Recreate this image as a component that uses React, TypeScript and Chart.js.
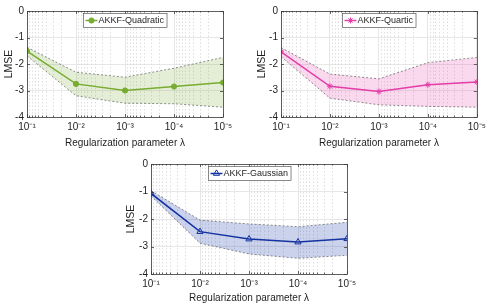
import React, { useEffect, useRef } from 'react';
import { Chart, registerables } from 'chart.js';
import { drawPoint } from 'chart.js/helpers';
Chart.register(...registerables);

// ---- data ----
const lambdas = [1e-1, 1e-2, 1e-3, 1e-4, 1e-5];
const xTickValues = [1e-1, 1e-2, 1e-3, 1e-4, 1e-5];
const xTickLabels = ['10⁻¹', '10⁻²', '10⁻³', '10⁻⁴', '10⁻⁵'];
const yTickValues = [0, -1, -2, -3, -4];

const quadMean = [-1.51, -2.75, -3.0, -2.85, -2.7];
const quadUpper = [-1.37, -2.31, -2.5, -2.16, -1.75];
const quadLower = [-1.69, -3.2, -3.48, -3.5, -3.63];

const quartMean = [-1.54, -2.84, -3.04, -2.78, -2.68];
const quartUpper = [-1.38, -2.38, -2.56, -1.95, -1.75];
const quartLower = [-1.72, -3.29, -3.54, -3.6, -3.63];

const gaussMean = [-1.07, -2.46, -2.73, -2.84, -2.72];
const gaussUpper = [-0.97, -2.04, -2.18, -2.28, -2.12];
const gaussLower = [-1.16, -2.88, -3.27, -3.43, -3.32];

const FONT = "'Liberation Sans', Arial, Helvetica, sans-serif";

const matlabPlugin = {
  id: 'matlab',
  beforeDatasetsDraw(chart: any) {
    const { ctx, chartArea: a, scales } = chart;
    const x = scales.x;
    ctx.save();
    ctx.strokeStyle = 'rgb(215,215,215)';
    ctx.lineWidth = 0.8;
    ctx.setLineDash([1.5, 2]);
    for (let e = -5; e < -1; e++) {
      for (let k = 2; k <= 9; k++) {
        const px = Math.round(x.getPixelForValue(k * Math.pow(10, e))) + 0.5;
        ctx.beginPath();
        ctx.moveTo(px, a.top);
        ctx.lineTo(px, a.bottom);
        ctx.stroke();
      }
    }
    ctx.restore();
  },
  afterDraw(chart: any, _args: any, opts: any) {
    const { ctx, chartArea: a, scales } = chart;
    const x = scales.x;
    const y = scales.y;
    ctx.save();
    ctx.strokeStyle = 'rgb(60,60,60)';
    ctx.lineWidth = 0.8;
    ctx.setLineDash([]);
    for (let e = -5; e <= -1; e++) {
      for (let k = 1; k <= 9; k++) {
        const v = k * Math.pow(10, e);
        if (v > 0.1 + 1e-12) continue;
        const len = k === 1 ? 3 : 1.5;
        const px = Math.round(x.getPixelForValue(v)) + 0.5;
        ctx.beginPath();
        ctx.moveTo(px, a.bottom);
        ctx.lineTo(px, a.bottom - len);
        ctx.moveTo(px, a.top);
        ctx.lineTo(px, a.top + len);
        ctx.stroke();
      }
    }
    for (const v of yTickValues) {
      const py = Math.round(y.getPixelForValue(v)) + 0.5;
      ctx.beginPath();
      ctx.moveTo(a.left, py);
      ctx.lineTo(a.left + 3, py);
      ctx.moveTo(a.right, py);
      ctx.lineTo(a.right - 3, py);
      ctx.stroke();
    }
    ctx.strokeRect(Math.round(a.left) + 0.5, Math.round(a.top) + 0.5, Math.round(a.right - a.left), Math.round(a.bottom - a.top));

    // legend
    ctx.font = `9px ${FONT}`;
    const tw = ctx.measureText(opts.label).width;
    const bw = 15 + tw + 3;
    const bh = 14;
    const cx = (a.left + a.right) / 2;
    const bx = Math.round(cx - bw / 2) + 0.5;
    const by = Math.round(a.top + 2) + 0.5;
    ctx.fillStyle = '#ffffff';
    ctx.fillRect(bx, by, bw, bh);
    ctx.strokeStyle = 'rgb(60,60,60)';
    ctx.lineWidth = 0.6;
    ctx.strokeRect(bx, by, bw, bh);
    const ly = by + bh / 2;
    ctx.strokeStyle = opts.color;
    ctx.lineWidth = 1.5;
    ctx.beginPath();
    ctx.moveTo(bx + 2, ly);
    ctx.lineTo(bx + 14, ly);
    ctx.stroke();
    ctx.fillStyle = opts.pointFill;
    ctx.strokeStyle = opts.color;
    ctx.lineWidth = 1;
    drawPoint(ctx, { pointStyle: opts.pointStyle, radius: opts.radius, borderWidth: 1, rotation: 0 }, bx + 8, ly);
    ctx.fillStyle = 'rgb(30,30,30)';
    ctx.textBaseline = 'middle';
    ctx.textAlign = 'left';
    ctx.fillText(opts.label, bx + 15, ly + 0.5);
    ctx.restore();
  },
};

type PanelProps = {
  left: number; top: number; width: number; height: number;
  yw: number; xh: number; padTop: number; padRight: number; yTitlePad: number;
  label: string; color: string; fill: string; pointStyle: string; pointFill: string; radius: number;
  mean: number[]; upper: number[]; lower: number[];
};

function Panel(p: PanelProps) {
  const ref = useRef<HTMLCanvasElement>(null);
  useEffect(() => {
    const toPts = (arr: number[]) => lambdas.map((l, i) => ({ x: l, y: arr[i] }));
    const bandLine = {
      borderColor: 'rgba(70,70,70,0.85)',
      borderWidth: 0.7,
      borderDash: [2, 2],
      pointRadius: 0,
      tension: 0,
    };
    const chart = new Chart(ref.current!, {
      type: 'line',
      data: {
        datasets: [
          {
            label: p.label,
            data: toPts(p.mean),
            borderColor: p.color,
            backgroundColor: p.pointFill,
            borderWidth: 1.5,
            pointStyle: p.pointStyle as any,
            pointRadius: p.radius,
            pointBorderWidth: 1,
            pointBorderColor: p.color,
            pointBackgroundColor: p.pointFill,
            fill: false,
          },
          { label: 'upper', data: toPts(p.upper), ...bandLine, fill: false },
          { label: 'lower', data: toPts(p.lower), ...bandLine, fill: '-1', backgroundColor: p.fill },
        ],
      },
      options: {
        responsive: false,
        animation: false,
        devicePixelRatio: 1,
        layout: { padding: { top: p.padTop, right: p.padRight, left: 0, bottom: 0 } },
        plugins: {
          legend: { display: false },
          tooltip: { enabled: false },
          matlab: { label: p.label, color: p.color, pointStyle: p.pointStyle, pointFill: p.pointFill, radius: p.radius },
        } as any,
        scales: {
          x: {
            type: 'logarithmic',
            reverse: true,
            min: 1e-5,
            max: 1e-1,
            afterBuildTicks: (s: any) => { s.ticks = xTickValues.map((v) => ({ value: v })); },
            afterFit: (s: any) => { s.height = p.xh; },
            ticks: {
              autoSkip: false,
              maxRotation: 0,
              padding: 4,
              color: 'rgb(30,30,30)',
              font: { family: FONT, size: 10 },
              callback: (v: any) => {
                const i = xTickValues.findIndex((t) => Math.abs(Math.log10(t) - Math.log10(v)) < 1e-6);
                return i >= 0 ? xTickLabels[i] : '';
              },
            },
            grid: { color: 'rgb(225,225,225)', lineWidth: 0.8, drawTicks: false },
            border: { display: false },
            title: {
              display: true,
              text: 'Regularization parameter λ',
              color: 'rgb(30,30,30)',
              font: { family: FONT, size: 10 },
              padding: { top: 0, bottom: 1 },
            },
          },
          y: {
            type: 'linear',
            min: -4,
            max: 0,
            afterBuildTicks: (s: any) => { s.ticks = yTickValues.map((v) => ({ value: v })); },
            afterFit: (s: any) => { s.width = p.yw; },
            ticks: {
              padding: 3,
              color: 'rgb(30,30,30)',
              font: { family: FONT, size: 10 },
              callback: (v: any) => String(v),
            },
            grid: { color: 'rgb(225,225,225)', lineWidth: 0.8, drawTicks: false },
            border: { display: false },
            title: {
              display: true,
              text: 'LMSE',
              color: 'rgb(30,30,30)',
              font: { family: FONT, size: 10.5 },
              padding: { top: p.yTitlePad, bottom: 0 },
            },
          },
        },
      },
      plugins: [matlabPlugin as any],
    });
    return () => chart.destroy();
  }, []);
  return (
    <canvas
      ref={ref}
      width={p.width}
      height={p.height}
      style={{ position: 'absolute', left: p.left, top: p.top, width: p.width, height: p.height }}
    />
  );
}

export default function App() {
  return (
    <div style={{ position: 'absolute', left: 0, top: 0, width: 490, height: 305, background: '#fff', overflow: 'hidden' }}>
      <Panel left={0} top={0} width={245} height={150} yw={27} xh={33} padTop={11} padRight={22} yTitlePad={3}
        label="AKKF-Quadratic" color="rgb(119,172,48)" fill="rgba(119,172,48,0.2)" pointStyle="circle" pointFill="rgb(119,172,48)" radius={2.6}
        mean={quadMean} upper={quadUpper} lower={quadLower} />
      <Panel left={245} top={0} width={245} height={150} yw={36} xh={33} padTop={11} padRight={13} yTitlePad={11}
        label="AKKF-Quartic" color="rgb(228,60,168)" fill="rgba(228,60,168,0.2)" pointStyle="star" pointFill="rgb(228,60,168)" radius={3}
        mean={quartMean} upper={quartUpper} lower={quartLower} />
      <Panel left={120} top={150} width={260} height={155} yw={31} xh={31} padTop={14} padRight={33} yTitlePad={5}
        label="AKKF-Gaussian" color="rgb(20,50,160)" fill="rgba(20,50,170,0.22)" pointStyle="triangle" pointFill="rgba(255,255,255,0)" radius={3.6}
        mean={gaussMean} upper={gaussUpper} lower={gaussLower} />
    </div>
  );
}
